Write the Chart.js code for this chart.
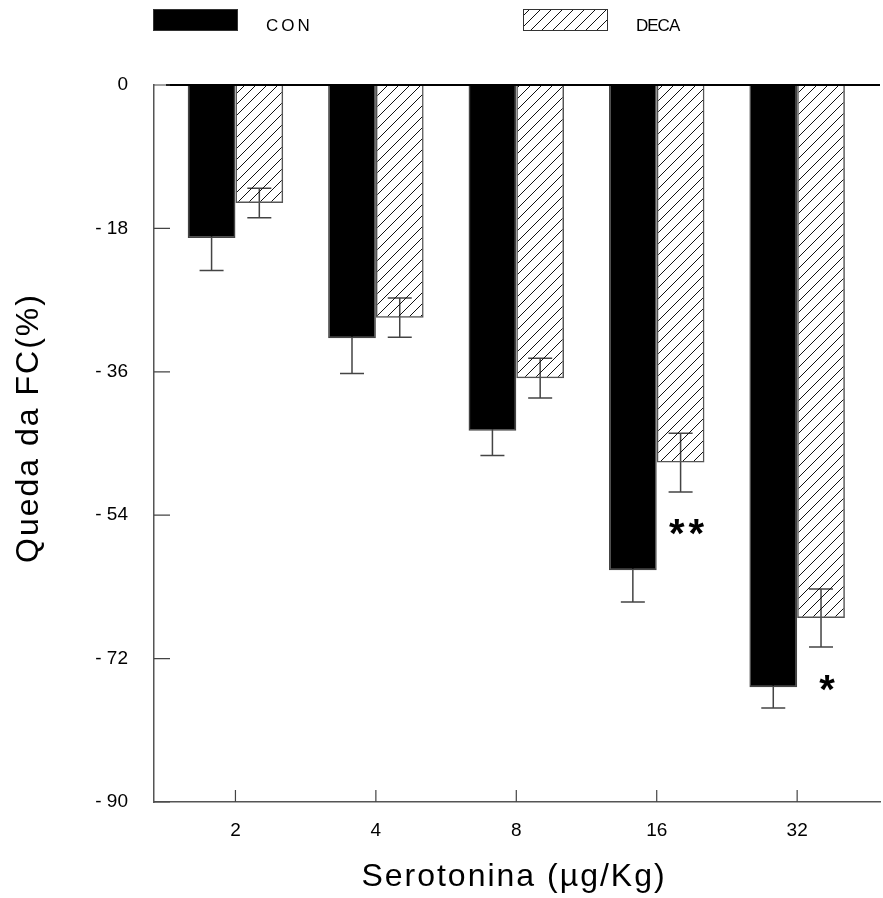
<!DOCTYPE html>
<html>
<head>
<meta charset="utf-8">
<title>Queda da FC</title>
<script src="https://cdn.jsdelivr.net/npm/chart.js@4.4.0/dist/chart.umd.min.js"></script>
<style>
    html, body { margin: 0; padding: 0; background: #fff; }
    #chart { display: block; }
</style>
</head>
<body>
<canvas id="chart" width="883" height="898"></canvas>
<script>
// Data (mean and error, % drop)
const doses = ['2', '4', '8', '16', '32'];
const conMeans = [-19.2, -31.8, -43.4, -60.9, -75.6];
const conErrors = [4.1, 4.4, 3.1, 4.0, 2.6];
const decaMeans = [-14.8, -29.2, -36.8, -47.4, -66.9];
const decaErrors = [1.85, 2.45, 2.5, 3.7, 3.65];
const sigMarks = ['', '', '', '**', '*'];
const sigLevels = [0, 0, 0, -55.5, -75.0];
const yTicks = [0, -18, -36, -54, -72, -90];

const FONT = "'Liberation Sans', Arial, sans-serif";

function hatchTile() {
    const c = document.createElement('canvas');
    c.width = 11;
    c.height = 11;
    const g = c.getContext('2d');
    g.strokeStyle = '#111';
    g.lineWidth = 1;
    g.beginPath();
    g.moveTo(-1, 12); g.lineTo(12, -1);
    g.moveTo(-1, 1); g.lineTo(1, -1);
    g.moveTo(10, 12); g.lineTo(12, 10);
    g.stroke();
    return c;
}

const ctx = document.getElementById('chart').getContext('2d');
const hatch = ctx.createPattern(hatchTile(), 'repeat');

function points(values) {
    return values.map(function(v, i) { return { x: i + 1, y: v }; });
}

const overlay = {
    id: 'overlay',
    // error bars go under the bars so the black CON bars hide the upper half
    beforeDatasetsDraw(chart) {
        const c = chart.ctx, y = chart.scales.y;
        c.save();
        c.strokeStyle = '#444';
        c.lineWidth = 1.5;
        chart.data.datasets.forEach(function(ds, di) {
            chart.getDatasetMeta(di).data.forEach(function(bar, i) {
                const v = ds.data[i].y, e = ds.errors[i];
                const y1 = y.getPixelForValue(v - e);
                const y2 = y.getPixelForValue(v + e);
                c.beginPath();
                c.moveTo(bar.x, y1); c.lineTo(bar.x, y2);
                c.moveTo(bar.x - 12, y1); c.lineTo(bar.x + 12, y1);
                c.moveTo(bar.x - 12, y2); c.lineTo(bar.x + 12, y2);
                c.stroke();
            });
        });
        c.restore();
    },
    afterDraw(chart) {
        const c = chart.ctx, x = chart.scales.x, y = chart.scales.y;
        const area = chart.chartArea;
        const y0 = y.getPixelForValue(0);
        c.save();

        // zero line along the top
        c.strokeStyle = '#000';
        c.lineWidth = 2;
        c.beginPath();
        c.moveTo(area.left + 12, y0);
        c.lineTo(area.right, y0);
        c.stroke();

        // inward tick marks
        c.strokeStyle = '#444';
        c.lineWidth = 1.2;
        c.beginPath();
        yTicks.forEach(function(v) {
            const py = y.getPixelForValue(v);
            c.moveTo(area.left, py);
            c.lineTo(area.left + 16, py);
        });
        doses.forEach(function(d, i) {
            const px = x.getPixelForValue(i + 1);
            c.moveTo(px, area.bottom);
            c.lineTo(px, area.bottom - 12);
        });
        c.stroke();

        // significance marks next to the DECA bars
        const decaMeta = chart.getDatasetMeta(1);
        c.fillStyle = '#000';
        c.font = 'bold 40px ' + FONT;
        c.textAlign = 'center';
        c.textBaseline = 'alphabetic';
        if ('letterSpacing' in c) c.letterSpacing = '4px';
        sigMarks.forEach(function(mark, i) {
            if (!mark) return;
            const m = c.measureText(mark);
            const cy = y.getPixelForValue(sigLevels[i]);
            c.fillText(mark, decaMeta.data[i].x + 8, cy + (m.actualBoundingBoxAscent - m.actualBoundingBoxDescent) / 2);
        });

        // axis titles
        if ('letterSpacing' in c) c.letterSpacing = '2px';
        c.font = '32px ' + FONT;
        c.fillText('Serotonina (\u00b5g/Kg)', 514, 886);
        c.translate(38, 428);
        c.rotate(-Math.PI / 2);
        c.fillText('Queda da FC(%)', 0, 0);
        c.setTransform(1, 0, 0, 1, 0, 0);

        // legend
        const legendX = [153, 523];
        c.font = '17px ' + FONT;
        c.textAlign = 'left';
        chart.data.datasets.forEach(function(ds, di) {
            const lx = legendX[di];
            c.fillStyle = ds.backgroundColor;
            c.fillRect(lx, 9, 85, 22);
            c.strokeStyle = '#333';
            c.lineWidth = 1;
            c.strokeRect(lx + 0.5, 9.5, 84, 21);
            c.fillStyle = '#000';
            if ('letterSpacing' in c) c.letterSpacing = di === 0 ? '3px' : '-1px';
            c.fillText(ds.label, lx + 113, 31);
        });

        c.restore();
    }
};

new Chart(ctx, {
    type: 'bar',
    data: {
        datasets: [{
            label: 'CON',
            data: points(conMeans),
            errors: conErrors,
            backgroundColor: '#000',
            borderColor: '#444',
            borderWidth: 1.5,
            categoryPercentage: 0.68,
            barPercentage: 1
        }, {
            label: 'DECA',
            data: points(decaMeans),
            errors: decaErrors,
            backgroundColor: hatch,
            borderColor: '#555',
            borderWidth: 1.5,
            categoryPercentage: 0.68,
            barPercentage: 1
        }]
    },
    options: {
        responsive: false,
        animation: false,
        layout: {
            padding: { top: 85, right: 3, bottom: 0, left: 0 }
        },
        plugins: {
            legend: { display: false },
            tooltip: { enabled: false }
        },
        scales: {
            x: {
                type: 'linear',
                min: 0.42,
                max: 5.59,
                offset: false,
                afterBuildTicks: function(scale) {
                    scale.ticks = doses.map(function(d, i) { return { value: i + 1 }; });
                },
                afterFit: function(scale) {
                    scale.height = 96;
                },
                ticks: {
                    callback: function(value) { return doses[value - 1]; },
                    color: '#000',
                    padding: 17,
                    maxRotation: 0,
                    font: { family: FONT, size: 19 }
                },
                grid: { display: true, drawOnChartArea: false, drawTicks: false, offset: false },
                border: { color: '#555', width: 1.5 }
            },
            y: {
                min: -90,
                max: 0,
                afterBuildTicks: function(scale) {
                    scale.ticks = yTicks.map(function(v) { return { value: v }; });
                },
                afterFit: function(scale) {
                    scale.width = 154;
                },
                ticks: {
                    callback: function(value) {
                        return value === 0 ? '0' : '- ' + Math.abs(value);
                    },
                    color: '#000',
                    padding: 26,
                    font: { family: FONT, size: 19 }
                },
                grid: { display: true, drawOnChartArea: false, drawTicks: false },
                border: { color: '#555', width: 1.5 }
            }
        }
    },
    plugins: [overlay]
});
</script>
</body>
</html>
